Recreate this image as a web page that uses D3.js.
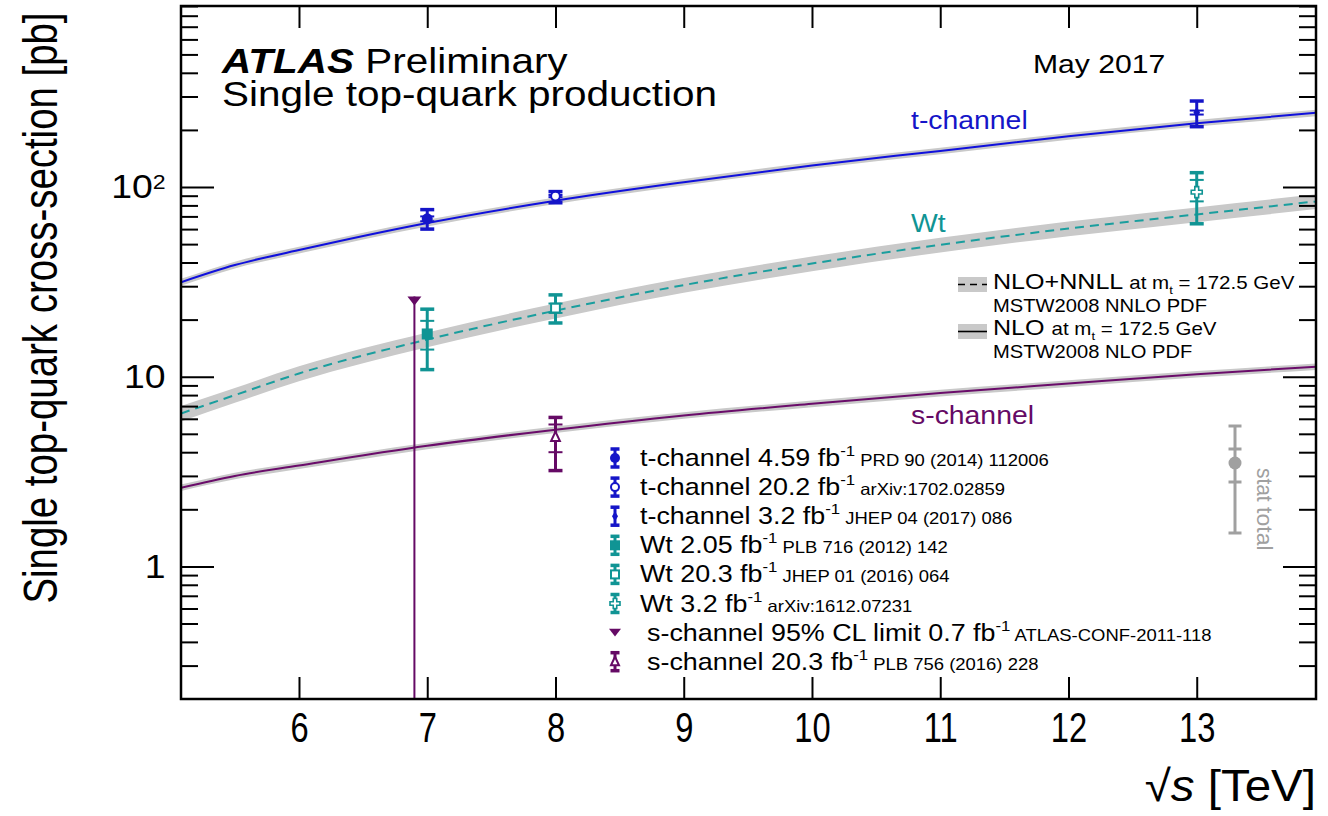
<!DOCTYPE html>
<html>
<head>
<meta charset="utf-8">
<script src="https://cdn.jsdelivr.net/npm/d3@7"></script>
<style>
  body { margin: 0; background: #fff; }
  text { font-family: "Liberation Sans", Arial, Helvetica, sans-serif; }
</style>
</head>
<body>
<main></main>
<script>
// ---- theory curves ----
const sqrtS    = [5.08, 5.5, 6, 7, 8, 9, 10, 11, 12, 13, 13.93];
const tChanNLO = [31.5, 38.8, 46.5, 64.6, 84.7, 106, 130, 155, 185, 217, 246];
const tChanUnc = [1.3, 1.6, 1.9, 2.6, 3.4, 4.2, 5.2, 6.2, 7.4, 8.7, 9.8];
const wtNNLL   = [6.4, 8.0, 10.4, 15.7, 22.3, 30.4, 39.5, 49.6, 60.4, 71.7, 84];
const wtUnc    = [0.6, 0.72, 0.94, 1.4, 2.0, 2.7, 3.5, 4.4, 5.4, 6.4, 7.5];
const sChanNLO = [2.6, 3.0, 3.4, 4.32, 5.26, 6.25, 7.2, 8.2, 9.2, 10.3, 11.3];
const sChanUnc = [0.1, 0.12, 0.14, 0.17, 0.21, 0.25, 0.29, 0.33, 0.37, 0.41, 0.45];

// ---- ATLAS measurements ----
const measSqrtS  = [7, 8, 13, 7, 8, 13, 8];
const measXsec   = [68, 89.6, 247, 16.8, 23.0, 94, 4.8];
const measTotUp  = [8, 5, 37, 5.9, 4.0, 25, 1.3];
const measTotDn  = [8, 7, 39, 5.9, 3.8, 30, 1.6];
const measStatUp = [2, 1.2, 6, 2.9, 1.3, 15, 0.8];
const measStatDn = [2, 1.2, 6, 2.9, 1.3, 10, 0.8];
const measChan   = ["t", "t", "t", "wt", "wt", "wt", "s"];
const measMarker = ["circle", "circleOpen", "diamond", "square", "squareOpen", "crossOpen", "triangleOpen"];
const limitSqrtS = 6.9;
const limitXsec  = 26.5;

// ---- legend ----
const legendLabels = ["t-channel 4.59 fb", "t-channel 20.2 fb", "t-channel 3.2 fb", "Wt 2.05 fb",
                      "Wt 20.3 fb", "Wt 3.2 fb", "s-channel 95% CL limit 0.7 fb", "s-channel 20.3 fb"];
const legendRefs   = ["PRD 90 (2014) 112006", "arXiv:1702.02859", "JHEP 04 (2017) 086", "PLB 716 (2012) 142",
                      "JHEP 01 (2016) 064", "arXiv:1612.07231", "ATLAS-CONF-2011-118", "PLB 756 (2016) 228"];
const legendMarker = ["circle", "circleOpen", "diamond", "square", "squareOpen", "crossOpen", "triangleDown", "triangleOpen"];
const legendChan   = ["t", "t", "t", "wt", "wt", "wt", "s", "s"];

// ---- axis ticks ----
const xTicks = [6, 7, 8, 9, 10, 11, 12, 13];
const yMajor = [1, 10, 100];
const yMinor = [0.3, 0.4, 0.5, 0.6, 0.7, 0.8, 0.9, 2, 3, 4, 5, 6, 7, 8, 9,
                20, 30, 40, 50, 60, 70, 80, 90, 200, 300, 400, 500, 600, 700, 800, 900];

const svgSize = { width: 1328, height: 816 };
const frame = { left: 181, right: 1316, top: 6, bottom: 699 };
const colors = { t: "#1515c8", wt: "#109494", s: "#650a65", band: "#c9c9c9", stat: "#a0a0a0" };
const lineColors = { t: "#1010dc", wt: "#1a9e9e", s: "#6a0c6a" };

const svg = d3.select("main").append("svg")
    .attr("width", svgSize.width)
    .attr("height", svgSize.height);
svg.append("rect").attr("width", svgSize.width).attr("height", svgSize.height).attr("fill", "#fff");

const x = d3.scaleLinear().domain([5.08, 13.93]).range([frame.left, frame.right]);
const y = d3.scaleLog().domain([0.2, 900]).range([frame.bottom, frame.top]);

svg.append("clipPath").attr("id", "clip")
    .append("rect")
    .attr("x", frame.left).attr("y", frame.top)
    .attr("width", frame.right - frame.left).attr("height", frame.bottom - frame.top);

const plot = svg.append("g").attr("clip-path", "url(#clip)");

// text with horizontal stretch, parts = [{t, size, dy}]
const addText = (parent, px, py, parts, opt) => {
    const t = parent.append("text")
        .attr("transform", `translate(${px},${py}) rotate(${opt.rotate || 0}) scale(${opt.sx || 1},1)`)
        .attr("text-anchor", opt.anchor || "start")
        .attr("fill", opt.fill || "#000")
        .style("font-size", opt.size + "px");
    if (opt.weight) t.style("font-weight", opt.weight);
    if (opt.italic) t.style("font-style", "italic");
    parts.forEach(p => {
        const ts = t.append("tspan").text(p.t);
        if (p.size) ts.style("font-size", p.size + "px");
        if (p.dy) ts.attr("dy", p.dy);
        if (p.dx) ts.attr("dx", p.dx);
        if (p.weight) ts.style("font-weight", p.weight);
        if (p.italic) ts.style("font-style", "italic");
    });
    return t;
};

// ---- theory bands and lines ----
const drawTheory = (vals, unc, color, dash) => {
    const pts = sqrtS.map((s, i) => ({ s: s, v: vals[i], e: unc[i] }));
    plot.append("path").datum(pts)
        .attr("d", d3.area().x(d => x(d.s)).y0(d => y(d.v - d.e)).y1(d => y(d.v + d.e)).curve(d3.curveMonotoneX))
        .attr("fill", colors.band);
    plot.append("path").datum(pts)
        .attr("d", d3.line().x(d => x(d.s)).y(d => y(d.v)).curve(d3.curveMonotoneX))
        .attr("fill", "none")
        .attr("stroke", color)
        .attr("stroke-width", 2)
        .attr("stroke-dasharray", dash || null);
};
drawTheory(tChanNLO, tChanUnc, lineColors.t);
drawTheory(wtNNLL, wtUnc, lineColors.wt, "9,6");
drawTheory(sChanNLO, sChanUnc, lineColors.s);

// ---- markers ----
const drawMarker = (g, type, cx, cy, s, color) => {
    if (type === "circle") {
        g.append("circle").attr("cx", cx).attr("cy", cy).attr("r", s).attr("fill", color);
    } else if (type === "circleOpen") {
        g.append("circle").attr("cx", cx).attr("cy", cy).attr("r", s * 0.8)
            .attr("fill", "#fff").attr("stroke", color).attr("stroke-width", 2);
    } else if (type === "diamond") {
        g.append("path").attr("d", `M${cx},${cy - s}L${cx + s * 0.6},${cy}L${cx},${cy + s}L${cx - s * 0.6},${cy}Z`)
            .attr("fill", color);
    } else if (type === "square") {
        g.append("rect").attr("x", cx - s).attr("y", cy - s).attr("width", 2 * s).attr("height", 2 * s).attr("fill", color);
    } else if (type === "squareOpen") {
        g.append("rect").attr("x", cx - s * 0.8).attr("y", cy - s * 0.8).attr("width", 1.6 * s).attr("height", 1.6 * s)
            .attr("fill", "#fff").attr("stroke", color).attr("stroke-width", 2);
    } else if (type === "crossOpen") {
        const a = s * 0.35;
        g.append("path")
            .attr("d", `M${cx - a},${cy - s}H${cx + a}V${cy - a}H${cx + s}V${cy + a}H${cx + a}V${cy + s}H${cx - a}V${cy + a}H${cx - s}V${cy - a}H${cx - a}Z`)
            .attr("fill", "#fff").attr("stroke", color).attr("stroke-width", 1.6);
    } else if (type === "triangleOpen") {
        g.append("path").attr("d", `M${cx},${cy - s}L${cx + s * 0.8},${cy + s * 0.7}L${cx - s * 0.8},${cy + s * 0.7}Z`)
            .attr("fill", "#fff").attr("stroke", color).attr("stroke-width", 2);
    } else if (type === "triangleDown") {
        g.append("path").attr("d", `M${cx - s},${cy - s * 0.65}L${cx + s},${cy - s * 0.65}L${cx},${cy + s * 0.65}Z`)
            .attr("fill", color);
    }
};

const drawErrBar = (g, cx, yTop, yBot, ySTop, ySBot, cap, color) => {
    g.append("line").attr("x1", cx).attr("x2", cx).attr("y1", yTop).attr("y2", yBot)
        .attr("stroke", color).attr("stroke-width", 3);
    [yTop, yBot].forEach(v => g.append("line").attr("x1", cx - cap).attr("x2", cx + cap).attr("y1", v).attr("y2", v)
        .attr("stroke", color).attr("stroke-width", 3.5));
    if (ySTop !== null) {
        [ySTop, ySBot].forEach(v => g.append("line").attr("x1", cx - cap).attr("x2", cx + cap).attr("y1", v).attr("y2", v)
            .attr("stroke", color).attr("stroke-width", 2));
    }
};

// s-channel limit
const lim = plot.append("g");
lim.append("line")
    .attr("x1", x(limitSqrtS)).attr("x2", x(limitSqrtS))
    .attr("y1", y(limitXsec)).attr("y2", frame.bottom)
    .attr("stroke", colors.s).attr("stroke-width", 2);
lim.append("path")
    .attr("d", `M${x(limitSqrtS) - 7},${y(limitXsec)}L${x(limitSqrtS) + 7},${y(limitXsec)}L${x(limitSqrtS)},${y(limitXsec) + 9}Z`)
    .attr("fill", colors.s);

// measurements
const pts = plot.append("g");
measSqrtS.forEach((s, i) => {
    const c = colors[measChan[i]];
    const cx = x(s);
    drawErrBar(pts, cx,
        y(measXsec[i] + measTotUp[i]), y(measXsec[i] - measTotDn[i]),
        y(measXsec[i] + measStatUp[i]), y(measXsec[i] - measStatDn[i]), 7, c);
    drawMarker(pts, measMarker[i], cx, y(measXsec[i]), 5.5, c);
});

// ---- frame and axes ----
const axes = svg.append("g");
const noDomain = g => g.select(".domain").remove();

axes.append("g").attr("transform", `translate(0,${frame.bottom})`)
    .call(d3.axisBottom(x).tickValues(xTicks).tickSize(-22).tickPadding(12).tickFormat(d3.format("d")))
    .call(noDomain)
    .call(g => g.selectAll("line").attr("stroke", "#000").attr("stroke-width", 2))
    .call(g => g.selectAll("text").attr("fill", "#000").style("font-size", "43px").attr("transform", "scale(0.76,1)"))
    .attr("font-family", null);

axes.append("g").attr("transform", `translate(0,${frame.top})`)
    .call(d3.axisTop(x).tickValues(xTicks).tickSize(-22).tickFormat(""))
    .call(noDomain)
    .call(g => g.selectAll("line").attr("stroke", "#000").attr("stroke-width", 2));

axes.append("g").attr("transform", `translate(${frame.left},0)`)
    .call(d3.axisLeft(y).tickValues(yMinor).tickSize(-17).tickFormat(""))
    .call(noDomain)
    .call(g => g.selectAll("line").attr("stroke", "#000").attr("stroke-width", 2));

axes.append("g").attr("transform", `translate(${frame.right},0)`)
    .call(d3.axisRight(y).tickValues(yMinor).tickSize(-17).tickFormat(""))
    .call(noDomain)
    .call(g => g.selectAll("line").attr("stroke", "#000").attr("stroke-width", 2));

axes.append("g").attr("transform", `translate(${frame.right},0)`)
    .call(d3.axisRight(y).tickValues(yMajor).tickSize(-33).tickFormat(""))
    .call(noDomain)
    .call(g => g.selectAll("line").attr("stroke", "#000").attr("stroke-width", 2));

axes.append("g").attr("transform", `translate(${frame.left},0)`)
    .call(d3.axisLeft(y).tickValues(yMajor).tickSize(-33).tickPadding(14).tickFormat(d => d === 100 ? "10" : String(d)))
    .call(noDomain)
    .call(g => g.selectAll("line").attr("stroke", "#000").attr("stroke-width", 2))
    .call(g => g.selectAll("text").attr("fill", "#000").style("font-size", "34px").attr("transform", "scale(1.1,1)"))
    .call(g => g.selectAll("text").filter(d => d === 100)
        .append("tspan").text("2").style("font-size", "21px").attr("dy", "-0.45em"))
    .attr("font-family", null);

axes.append("rect")
    .attr("x", frame.left).attr("y", frame.top)
    .attr("width", frame.right - frame.left).attr("height", frame.bottom - frame.top)
    .attr("fill", "none").attr("stroke", "#000").attr("stroke-width", 2.5);

// axis titles
addText(svg, 57, 308, [{ t: "Single top-quark cross-section [pb]" }], { size: 48, sx: 0.8, rotate: -90, anchor: "middle" });
addText(svg, 1316, 801, [{ t: "√" }, { t: "s", italic: true }, { t: " [TeV]" }], { size: 44, sx: 1.08, anchor: "end" });

// ---- titles ----
addText(svg, 222, 73, [{ t: "ATLAS", weight: "bold", italic: true }, { t: " Preliminary" }], { size: 36, sx: 1.125 });
addText(svg, 222, 106, [{ t: "Single top-quark production" }], { size: 36, sx: 1.125 });
addText(svg, 1033, 73, [{ t: "May 2017" }], { size: 26, sx: 1.16 });

addText(svg, 911, 129, [{ t: "t-channel" }], { size: 25, sx: 1.135, fill: colors.t });
addText(svg, 911, 232, [{ t: "Wt" }], { size: 25, sx: 1.135, fill: colors.wt });
addText(svg, 911, 424, [{ t: "s-channel" }], { size: 25, sx: 1.135, fill: colors.s });

// ---- theory legend ----
const thLeg = svg.append("g");
thLeg.append("rect").attr("x", 958).attr("y", 277).attr("width", 29).attr("height", 15).attr("fill", colors.band);
thLeg.append("line").attr("x1", 958).attr("x2", 987).attr("y1", 284.5).attr("y2", 284.5)
    .attr("stroke", "#000").attr("stroke-width", 1.6).attr("stroke-dasharray", "7,5");
thLeg.append("rect").attr("x", 958).attr("y", 324).attr("width", 29).attr("height", 15).attr("fill", colors.band);
thLeg.append("line").attr("x1", 958).attr("x2", 987).attr("y1", 331.5).attr("y2", 331.5)
    .attr("stroke", "#000").attr("stroke-width", 1.6);

const massParts = [{ t: " at m", size: 18 }, { t: "t", size: 11.5, dy: 5 }, { t: " = 172.5 GeV", size: 18, dy: -5 }];
addText(thLeg, 993, 289, [{ t: "NLO+NNLL " }].concat(massParts), { size: 22, sx: 1.14 });
addText(thLeg, 993, 312, [{ t: "MSTW2008 NNLO PDF" }], { size: 18, sx: 1.12 });
addText(thLeg, 993, 335, [{ t: "NLO " }].concat(massParts), { size: 22, sx: 1.14 });
addText(thLeg, 993, 358, [{ t: "MSTW2008 NLO PDF" }], { size: 18, sx: 1.12 });

// ---- measurement legend ----
const leg = svg.append("g");
legendLabels.forEach((lab, i) => {
    const base = 466 + i * 29.1;
    const c = colors[legendChan[i]];
    const cy = base - 8;
    if (legendMarker[i] !== "triangleDown") {
        drawErrBar(leg, 615, cy - 9, cy + 9, null, null, 4.5, c);
    }
    drawMarker(leg, legendMarker[i], 615, cy, legendMarker[i] === "triangleDown" ? 6 : 5, c);
    const tx = legendChan[i] === "s" ? 647 : 640;
    addText(leg, tx, base, [
        { t: lab },
        { t: "-1", size: 15, dy: -10 },
        { t: " " + legendRefs[i], size: 16.5, dy: 10 }
    ], { size: 24, sx: 1.12 });
});

// ---- stat / total indicator ----
const st = svg.append("g");
drawErrBar(st, 1235, 426, 533, 449, 482, 6.5, colors.stat);
st.selectAll("line").attr("stroke-width", 3);
st.append("circle").attr("cx", 1235).attr("cy", 463).attr("r", 6.5).attr("fill", colors.stat);
addText(st, 1257, 468, [{ t: "stat" }], { size: 22, sx: 0.95, rotate: 90, fill: colors.stat });
addText(st, 1257, 507, [{ t: "total" }], { size: 22, sx: 1.05, rotate: 90, fill: colors.stat });
</script>
</body>
</html>
